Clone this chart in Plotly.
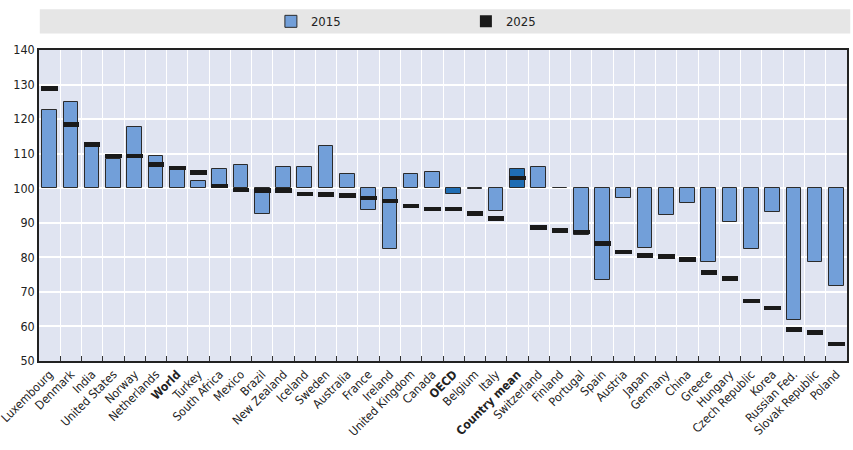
import plotly.graph_objects as go

countries = ["Luxembourg", "Denmark", "India", "United States", "Norway", "Netherlands",
             "World", "Turkey", "South Africa", "Mexico", "Brazil", "New Zealand", "Iceland",
             "Sweden", "Australia", "France", "Ireland", "United Kingdom", "Canada", "OECD",
             "Belgium", "Italy", "Country mean", "Switzerland", "Finland", "Portugal", "Spain",
             "Austria", "Japan", "Germany", "China", "Greece", "Hungary", "Czech Republic",
             "Korea", "Russian Fed.", "Slovak Republic", "Poland"]
bold_labels = ["World", "OECD", "Country mean"]
highlight = ["OECD", "Country mean"]

v2015 = [122.5, 125.0, 112.0, 108.4, 117.7, 109.4, 105.3, 102.1, 105.6, 106.8, 92.4, 106.1,
         106.1, 112.1, 104.0, 93.7, 82.4, 104.0, 104.6, 98.3, 99.7, 93.5, 105.6, 106.1,
         100.2, 86.4, 73.3, 97.3, 82.8, 92.3, 95.8, 78.6, 90.3, 82.3, 93.0, 61.8, 78.6, 71.8]
v2025 = [128.9, 118.4, 112.6, 109.3, 109.3, 106.8, 105.8, 104.5, 100.7, 99.5, 99.3, 99.3,
         98.3, 98.2, 97.9, 97.2, 96.3, 94.9, 94.0, 94.0, 92.7, 91.2, 102.9, 88.6,
         87.7, 87.4, 84.0, 81.6, 80.5, 80.3, 79.4, 75.6, 73.9, 67.3, 65.3, 59.1, 58.3, 54.9]
y_ticks = [50, 60, 70, 80, 90, 100, 110, 120, 130, 140]

BASE = 100
idx = list(range(len(countries)))
bar_colors = ["#1f6db4" if c in highlight else "#729fd9" for c in countries]
ticktext = [f"<b>{c}</b>" if c in bold_labels else c for c in countries]
mh = 1.3

fig = go.Figure()
fig.add_trace(go.Bar(
    x=idx, y=[v - BASE for v in v2015], base=BASE, name="2015",
    marker=dict(color=bar_colors, line=dict(color="#2b2b2b", width=1)),
    width=0.69,
))
fig.add_trace(go.Bar(
    x=idx, y=[mh] * len(v2025), base=[v - mh / 2 for v in v2025], name="2025",
    marker=dict(color="#1a1a1a", line=dict(width=0)),
    width=0.78,
))

font = "DejaVu Sans Condensed, Liberation Sans Narrow, sans-serif"
fig.update_layout(
    width=853, height=450,
    margin=dict(l=39, r=6, t=50, b=89),
    barmode="overlay",
    bargap=0,
    plot_bgcolor="#e0e4f1",
    paper_bgcolor="white",
    font=dict(family=font, size=12, color="#222"),
    showlegend=True,
    legend=dict(orientation="h", x=0.287, y=1.092, xanchor="left", yanchor="middle",
                bgcolor="rgba(0,0,0,0)", font=dict(size=13, family=font),
                entrywidth=150, entrywidthmode="pixels", traceorder="normal"),
    shapes=[
        dict(type="rect", xref="paper", yref="paper", x0=0.001, x1=1.004, y0=1.053, y1=1.131,
             fillcolor="#e6e6e6", line=dict(width=0), layer="below"),
        dict(type="line", xref="paper", yref="y", x0=0, x1=1, y0=BASE, y1=BASE,
             line=dict(color="#8a8a8a", width=1), layer="below"),
    ],
)
fig.update_xaxes(
    range=[-0.5, len(countries) - 0.5], automargin=False,
    tickmode="array", tickvals=idx, ticktext=ticktext,
    tickangle=-45, ticks="", showgrid=False, ticklabeloverflow="allow",
    tickfont=dict(size=12, family=font),
    showline=True, linecolor="#222", linewidth=1.5, mirror=True,
    minor=dict(tickmode="array", tickvals=[i + 0.5 for i in idx[:-1]], showgrid=True,
               gridcolor="white", gridwidth=1, ticks="inside", ticklen=5,
               tickcolor="#333", tickwidth=1),
    zeroline=False,
)
fig.update_yaxes(
    range=[50, 140], tickvals=y_ticks, showgrid=True, gridcolor="white", gridwidth=1.5,
    automargin=False, tickfont=dict(size=12.5, family=font),
    showline=True, linecolor="#222", linewidth=1.5, mirror=True, ticks="", zeroline=False,
)
fig.write_html("out.html")
